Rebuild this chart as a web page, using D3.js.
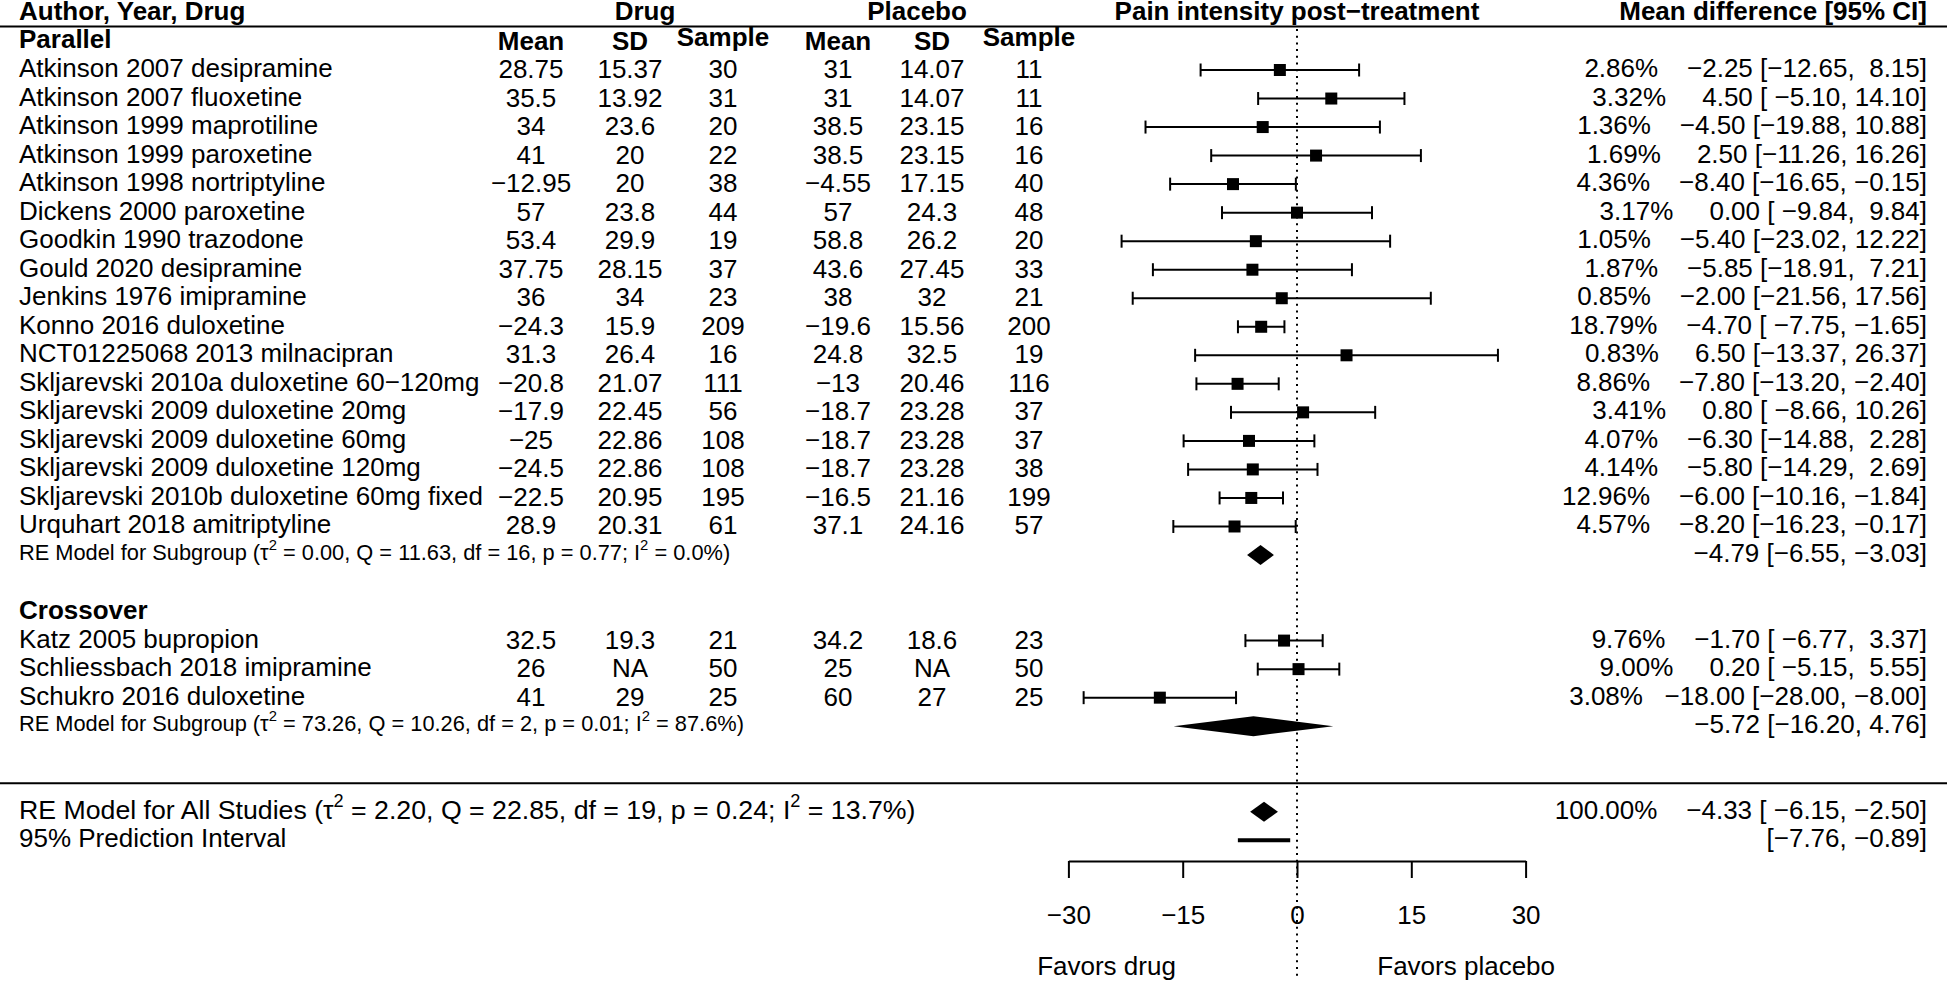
<!DOCTYPE html>
<html>
<head>
<meta charset="utf-8">
<script src="https://cdn.jsdelivr.net/npm/d3@7"></script>
<style>
html, body { margin: 0; padding: 0; background: #fff; }
svg { display: block; font-family: "Liberation Sans", Arial, Helvetica, sans-serif; }
text { white-space: pre; fill: #000; }
</style>
</head>
<body>
<svg id="chart" width="1947" height="982"></svg>
<script>
// ---------------- DATA ----------------
const studies = [
  "Atkinson 2007 desipramine", "Atkinson 2007 fluoxetine", "Atkinson 1999 maprotiline",
  "Atkinson 1999 paroxetine", "Atkinson 1998 nortriptyline", "Dickens 2000 paroxetine",
  "Goodkin 1990 trazodone", "Gould 2020 desipramine", "Jenkins 1976 imipramine",
  "Konno 2016 duloxetine", "NCT01225068 2013 milnacipran", "Skljarevski 2010a duloxetine 60\u2212120mg",
  "Skljarevski 2009 duloxetine 20mg", "Skljarevski 2009 duloxetine 60mg", "Skljarevski 2009 duloxetine 120mg",
  "Skljarevski 2010b duloxetine 60mg fixed", "Urquhart 2018 amitriptyline",
  "Katz 2005 bupropion", "Schliessbach 2018 imipramine", "Schukro 2016 duloxetine"
];
const design = [
  "Parallel","Parallel","Parallel","Parallel","Parallel","Parallel","Parallel","Parallel","Parallel",
  "Parallel","Parallel","Parallel","Parallel","Parallel","Parallel","Parallel","Parallel",
  "Crossover","Crossover","Crossover"
];
const drugMean = [28.75, 35.5, 34, 41, -12.95, 57, 53.4, 37.75, 36, -24.3, 31.3, -20.8, -17.9, -25, -24.5, -22.5, 28.9, 32.5, 26, 41];
const drugSD   = [15.37, 13.92, 23.6, 20, 20, 23.8, 29.9, 28.15, 34, 15.9, 26.4, 21.07, 22.45, 22.86, 22.86, 20.95, 20.31, 19.3, null, 29];
const drugN    = [30, 31, 20, 22, 38, 44, 19, 37, 23, 209, 16, 111, 56, 108, 108, 195, 61, 21, 50, 25];
const placMean = [31, 31, 38.5, 38.5, -4.55, 57, 58.8, 43.6, 38, -19.6, 24.8, -13, -18.7, -18.7, -18.7, -16.5, 37.1, 34.2, 25, 60];
const placSD   = [14.07, 14.07, 23.15, 23.15, 17.15, 24.3, 26.2, 27.45, 32, 15.56, 32.5, 20.46, 23.28, 23.28, 23.28, 21.16, 24.16, 18.6, null, 27];
const placN    = [11, 11, 16, 16, 40, 48, 20, 33, 21, 200, 19, 116, 37, 37, 38, 199, 57, 23, 50, 25];
const weights  = [2.86, 3.32, 1.36, 1.69, 4.36, 3.17, 1.05, 1.87, 0.85, 18.79, 0.83, 8.86, 3.41, 4.07, 4.14, 12.96, 4.57, 9.76, 9.00, 3.08];
const estimate = [-2.25, 4.50, -4.50, 2.50, -8.40, 0.00, -5.40, -5.85, -2.00, -4.70, 6.50, -7.80, 0.80, -6.30, -5.80, -6.00, -8.20, -1.70, 0.20, -18.00];
const ciLower  = [-12.65, -5.10, -19.88, -11.26, -16.65, -9.84, -23.02, -18.91, -21.56, -7.75, -13.37, -13.20, -8.66, -14.88, -14.29, -10.16, -16.23, -6.77, -5.15, -28.00];
const ciUpper  = [8.15, 14.10, 10.88, 16.26, -0.15, 9.84, 12.22, 7.21, 17.56, -1.65, 26.37, -2.40, 10.26, 2.28, 2.69, -1.84, -0.17, 3.37, 5.55, -8.00];

const subgroups = ["Parallel", "Crossover"];
const subEst   = [-4.79, -5.72];
const subLower = [-6.55, -16.20];
const subUpper = [-3.03, 4.76];
const subTau2  = [0.00, 73.26];
const subQ     = [11.63, 10.26];
const subDf    = [16, 2];
const subP     = [0.77, 0.01];
const subI2    = [0.0, 87.6];

const overallWeight = [100.00];
const overallEst    = [-4.33];
const overallLower  = [-6.15];
const overallUpper  = [-2.50];
const overallTau2   = [2.20];
const overallQ      = [22.85];
const overallDf     = [19];
const overallP      = [0.24];
const overallI2     = [13.7];
const predLower     = [-7.76];
const predUpper     = [-0.89];

const tickValues = [-30, -15, 0, 15, 30];
const favorLabels = ["Favors drug", "Favors placebo"];
const favorPos = [-25, 22.2];
const colHeaders = ["Mean", "SD", "Sample", "Mean", "SD", "Sample"];
const groupHeaders = ["Drug", "Placebo"];

// ---------------- LAYOUT ----------------
const W = 1947, H = 982;
const FS = 26, SMALL = 21.8, BIGSTAT = 26.7;
const LEFT = 19, RIGHT = 1927;
const colX = [531, 630, 723, 838, 932, 1029];
const groupX = [645, 917];
const svg = d3.select("#chart");

const x = d3.scaleLinear().domain([-30, 30]).range([1068.4, 1525.6]);
const y = d3.scaleLinear().domain([1, 28]).range([70, 70 + 27 * 28.53]);
const axisY = 861;
const LBL = 7;   // baseline offset for left/right labels
const CEN = 8;   // baseline offset for centered table values

// row assignment
const rowOf = [];
let pr = 1, cr = 21;
design.forEach((d, i) => { rowOf[i] = d === "Parallel" ? pr++ : cr++; });
const subRow = [18, 24];
const headRow = [0, 20];
const overallRow = 27, predRow = 28;

const mm = s => s.replace(/-/g, "\u2212");
const f2 = v => v.toFixed(2);
const pad = (s, w) => " ".repeat(Math.max(0, w - s.length)) + s;
const cell = v => v == null ? "NA" : mm(String(v));

// ---------------- LINES ----------------
svg.append("line").attr("x1", 0).attr("x2", W).attr("y1", 26.5).attr("y2", 26.5)
  .attr("stroke", "#000").attr("stroke-width", 2);
svg.append("line").attr("x1", 0).attr("x2", W).attr("y1", y(26)).attr("y2", y(26))
  .attr("stroke", "#000").attr("stroke-width", 2);
svg.append("line").attr("x1", x(0)).attr("x2", x(0)).attr("y1", 29).attr("y2", 978)
  .attr("stroke", "#000").attr("stroke-width", 2).attr("stroke-dasharray", "2,4.7");

// ---------------- HEADERS ----------------
const bold = (t, xx, yy, anchor) => svg.append("text").attr("x", xx).attr("y", yy)
  .attr("font-size", FS).attr("font-weight", "bold").attr("text-anchor", anchor).text(t);
const HEADY = y(-1) + LBL + 0.5;
bold("Author, Year, Drug", LEFT, HEADY, "start");
groupHeaders.forEach((g, i) => bold(g, groupX[i], HEADY, "middle"));
bold("Pain intensity post\u2212treatment", x(0), HEADY, "middle");
bold("Mean difference [95% CI]", RIGHT, HEADY, "end");
colHeaders.forEach((h, i) => bold(h, colX[i], y(0) + (h === "Sample" ? 5 : 9), "middle"));
subgroups.forEach((g, i) => bold(g, LEFT, y(headRow[i]) + LBL, "start"));

// ---------------- STUDY ROWS ----------------
const allEst = estimate.concat(overallEst).map(f2);
const allLo = ciLower.concat(overallLower).map(f2);
const allHi = ciUpper.concat(overallUpper).map(f2);
const allW = weights.concat(overallWeight).map(f2);
const wE = d3.max(allEst, s => s.length), wL = d3.max(allLo, s => s.length),
      wH = d3.max(allHi, s => s.length), wW = d3.max(allW, s => s.length);
const annot = i => mm(pad(allW[i], wW) + "%   " + pad(allEst[i], wE) + " [" + pad(allLo[i], wL) + ", " + pad(allHi[i], wH) + "]");

const cols = [drugMean, drugSD, drugN, placMean, placSD, placN];
studies.forEach((s, i) => {
  const yy = y(rowOf[i]);
  svg.append("text").attr("x", LEFT).attr("y", yy + LBL).attr("font-size", FS).text(s);
  cols.forEach((c, j) => svg.append("text").attr("x", colX[j]).attr("y", yy + CEN)
    .attr("font-size", FS).attr("text-anchor", "middle").text(cell(c[i])));
  svg.append("text").attr("x", RIGHT).attr("y", yy + LBL).attr("font-size", FS)
    .attr("text-anchor", "end").text(annot(i));
  // CI
  const g = svg.append("g").attr("stroke", "#000").attr("stroke-width", 2);
  g.append("line").attr("x1", x(ciLower[i])).attr("x2", x(ciUpper[i])).attr("y1", yy).attr("y2", yy);
  [ciLower[i], ciUpper[i]].forEach(v => g.append("line").attr("x1", x(v)).attr("x2", x(v))
    .attr("y1", yy - 6.5).attr("y2", yy + 6.5));
  svg.append("rect").attr("x", x(estimate[i]) - 6).attr("y", yy - 6).attr("width", 12).attr("height", 12)
    .attr("fill", "#000");
});

// ---------------- SUMMARY POLYGONS ----------------
const diamond = (est, lo, hi, yy) => svg.append("path")
  .attr("d", `M${x(lo)},${yy}L${x(est)},${yy - 10}L${x(hi)},${yy}L${x(est)},${yy + 10}Z`)
  .attr("fill", "#000");

function statLabel(prefix, tau2, Q, df, p, I2, yy, size) {
  const t = svg.append("text").attr("x", LEFT).attr("y", yy).attr("font-size", size);
  const sup = size * 0.45;
  t.append("tspan").text(prefix + " (\u03C4");
  t.append("tspan").attr("dy", -sup).attr("font-size", size * 0.68).text("2");
  t.append("tspan").attr("dy", sup).text(" = " + f2(tau2) + ", Q = " + f2(Q) + ", df = " + df +
    ", p = " + f2(p) + "; I");
  t.append("tspan").attr("dy", -sup).attr("font-size", size * 0.68).text("2");
  t.append("tspan").attr("dy", sup).text(" = " + I2.toFixed(1) + "%)");
}

subgroups.forEach((g, i) => {
  const yy = y(subRow[i]);
  diamond(subEst[i], subLower[i], subUpper[i], yy);
  statLabel("RE Model for Subgroup", subTau2[i], subQ[i], subDf[i], subP[i], subI2[i], yy + 5, SMALL);
  svg.append("text").attr("x", RIGHT).attr("y", yy + LBL).attr("font-size", FS).attr("text-anchor", "end")
    .text(mm(f2(subEst[i]) + " [" + f2(subLower[i]) + ", " + f2(subUpper[i]) + "]"));
});

// overall
const oy = y(overallRow);
diamond(overallEst[0], overallLower[0], overallUpper[0], oy);
statLabel("RE Model for All Studies", overallTau2[0], overallQ[0], overallDf[0], overallP[0], overallI2[0], oy + LBL, BIGSTAT);
svg.append("text").attr("x", RIGHT).attr("y", oy + LBL).attr("font-size", FS).attr("text-anchor", "end")
  .text(annot(studies.length));

// prediction interval
const py = y(predRow);
svg.append("line").attr("x1", x(predLower[0])).attr("x2", x(predUpper[0])).attr("y1", py).attr("y2", py)
  .attr("stroke", "#000").attr("stroke-width", 4);
svg.append("text").attr("x", LEFT).attr("y", py + LBL).attr("font-size", FS).text("95% Prediction Interval");
svg.append("text").attr("x", RIGHT).attr("y", py + LBL).attr("font-size", FS).attr("text-anchor", "end")
  .text(mm("[" + f2(predLower[0]) + ", " + f2(predUpper[0]) + "]"));

// ---------------- AXIS ----------------
const axis = d3.axisBottom(x).tickValues(tickValues).tickSize(17).tickSizeOuter(0).tickPadding(27.5);
const ag = svg.append("g").attr("transform", `translate(0,${axisY})`).call(axis);
ag.select(".domain").attr("stroke", "#000").attr("stroke-width", 2);
ag.selectAll(".tick line").attr("stroke", "#000").attr("stroke-width", 2);
ag.selectAll(".tick text").attr("font-size", FS).attr("font-family", "Liberation Sans, Arial, sans-serif").attr("fill", "#000");

favorLabels.forEach((l, i) => svg.append("text").attr("x", x(favorPos[i])).attr("y", 975)
  .attr("font-size", FS).attr("text-anchor", "middle").text(l));
</script>
</body>
</html>
